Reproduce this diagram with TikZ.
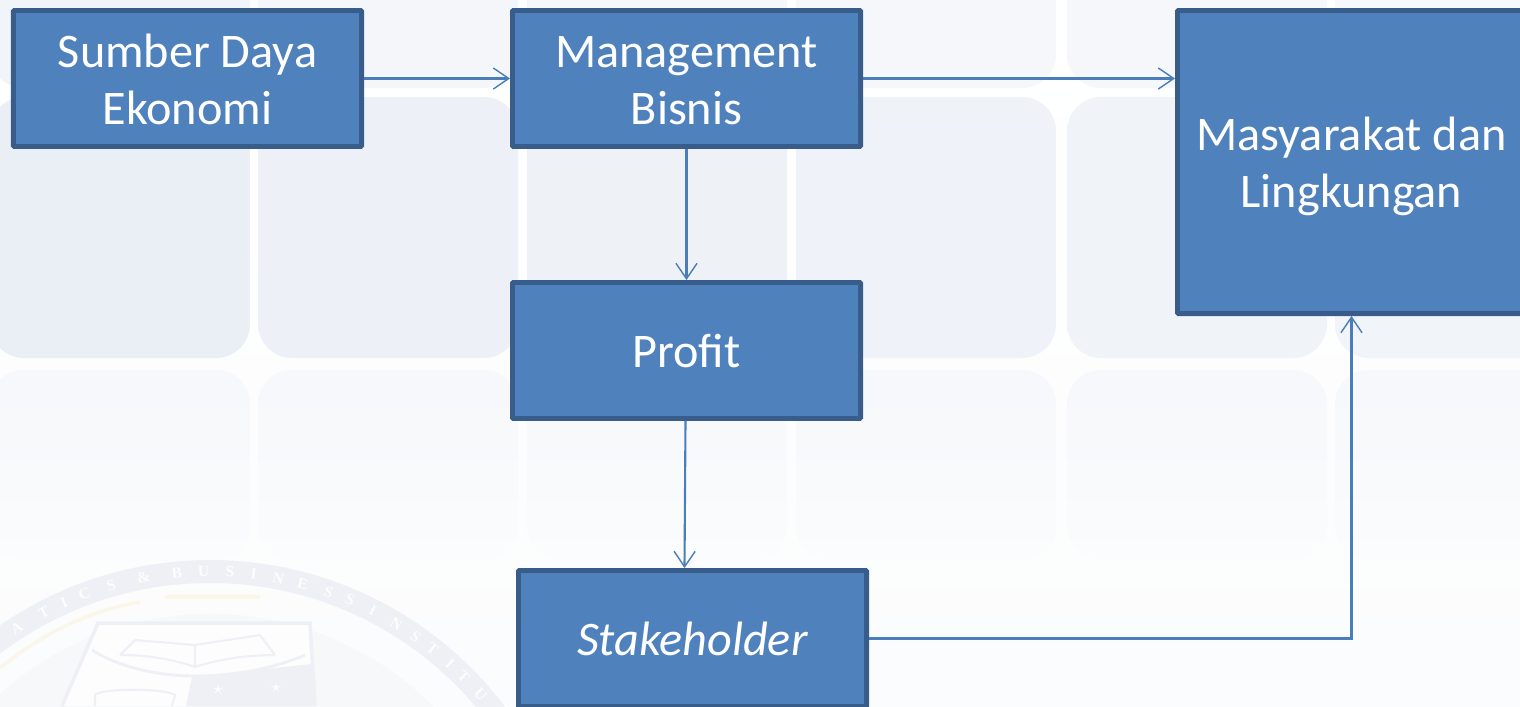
\documentclass[tikz,border=0pt]{standalone}
\usepackage{fontspec}
\setmainfont{Carlito}
\newfontfamily\sealfont{Liberation Serif}
\usetikzlibrary{arrows.meta}
\definecolor{boxblue}{HTML}{4F81BD}
\definecolor{boxedge}{HTML}{385D8A}
\definecolor{linkblue}{HTML}{4A7EBB}
\definecolor{tiletop}{HTML}{E7ECF4}
\definecolor{sealgray}{HTML}{EEF0F5}
\definecolor{sealgold}{HTML}{FAF6E8}
\definecolor{bgbottom}{HTML}{FBFCFD}
\newcommand{\atas}[1]{\rule{0pt}{#1}}
\tikzset{
  blok/.style={draw=boxedge, fill=boxblue, line width=3.5pt, rounded corners=0.6pt, text=white, align=center, inner sep=0pt, minimum width=8.7cm, minimum height=3.4cm, font=\fontsize{34.3}{40.5}\selectfont},
  panah/.style={draw=linkblue, line width=1.5pt, -{Straight Barb[length=11pt, width=15pt, line width=1pt]}},
  petak/.style={rounded corners=0.85cm},
  huruf/.style={text=white!30!sealgray!20!white, font=\sealfont\bfseries\fontsize{11}{11}\selectfont, inner sep=0pt}
}
\begin{document}
\begin{tikzpicture}[x=0.025cm, y=-0.025cm]
\useasboundingbox (0,0) rectangle (1520,706);
\begin{scope}
\clip (0,0) rectangle (1520,706);
\shade[top color=white, bottom color=bgbottom] (0,0) rectangle (1520,706);
% latar
\foreach \x/\k in {-10/100,258/85,527/80,796/75,1067/70,1335/65}{
  \shade[petak, top color=tiletop!\k!white, bottom color=tiletop!\k!white, opacity=0.55] (\x,-170) rectangle (\x+260,88);
  \shade[petak, top color=tiletop!\k!white, bottom color=tiletop!\k!white, opacity=0.85] (\x,97) rectangle (\x+260,358);
  \shade[petak, top color=tiletop!38!white, bottom color=bgbottom, middle color=bgbottom!85!tiletop] (\x,370) rectangle (\x+260,560);
}
% lambang
\draw[sealgray, line width=0.575cm] (210,930) circle (8.96cm);
\fill[sealgray!45!white] (210,930) circle (7.9cm);
\draw[sealgold, line width=2.5pt] (0,668) .. controls (40,635) and (90,610) .. (140,602);
\draw[sealgold, line width=3.5pt] (165,597) -- (260,597);
\foreach \a/\h [count=\i] in {122.6/A,117.6/T,114/I,110.5/C,106/S,100.7/\&,95.3/B,91/U,86.8/S,83/I,79/N,75/E,70.7/S,67/S,63/I,58.7/N,55/S,51.6/T,48/I,45/T,41/U}{
  \node[huruf, rotate=\a-90] (huruf\i) at ([shift={(\a:8.96cm)}]210,930) {\h};
}
% perisai
\fill[white!60!sealgray!30!white] (98,623) -- (310,623) -- (315,706) -- (62,706) -- cycle;
\draw[sealgray, line width=2.5pt] (62,706) -- (98,623) -- (310,623) -- (315,706);
\draw[sealgray, line width=2pt] (92,650) .. controls (120,668) and (160,676) .. (195,676) .. controls (235,676) and (275,668) .. (305,655);
\fill[sealgray] (192,677) -- (312,664) -- (315,706) -- (186,706) -- cycle;
\draw[sealgray, line width=1.5pt] (120,655) .. controls (150,655) and (175,660) .. (195,667) .. controls (215,660) and (245,655) .. (275,655) (135,640) -- (120,655) (260,635) -- (275,655) (135,640) -- (195,645) -- (260,635) (195,645) -- (195,667);
\draw[sealgray, line width=1.5pt] (95,706) -- (95,695) .. controls (100,688) and (165,688) .. (175,695) -- (172,706);
\node[white, font=\fontsize{14}{14}\selectfont, inner sep=0pt] (bintang1) at (218,690) {$\star$};
\node[white, font=\fontsize{14}{14}\selectfont, inner sep=0pt] (bintang2) at (276,688) {$\star$};
\end{scope}
% blok
\node[blok] (sumber) at (187.5,78.5) {\atas{25.2pt}Sumber Daya\\Ekonomi};
\node[blok] (manajemen) at (686.5,78.5) {\atas{25.2pt}Management\\Bisnis};
\node[blok] (profit) at (686.5,350.5) {\atas{24.5pt}Profit};
\node[blok] (stakeholder) at (692.5,638.5) {\atas{24.5pt}\textit{Stakeholder}};
\node[blok, minimum height=7.575cm] (masyarakat) at (1351.5,162) {\atas{29.5pt}Masyarakat dan\\Lingkungan};
% panah
\draw[panah] (sumber) -- (manajemen);
\draw[panah] (manajemen.east) -- (masyarakat.west |- manajemen.east);
\draw[panah] (manajemen) -- (profit);
\draw[panah] ([xshift=-0.025cm]profit.south) -- ([xshift=-0.05cm]profit.south |- stakeholder.north);
\draw[panah] (stakeholder.east) -| (masyarakat.south);
\end{tikzpicture}
\end{document}
